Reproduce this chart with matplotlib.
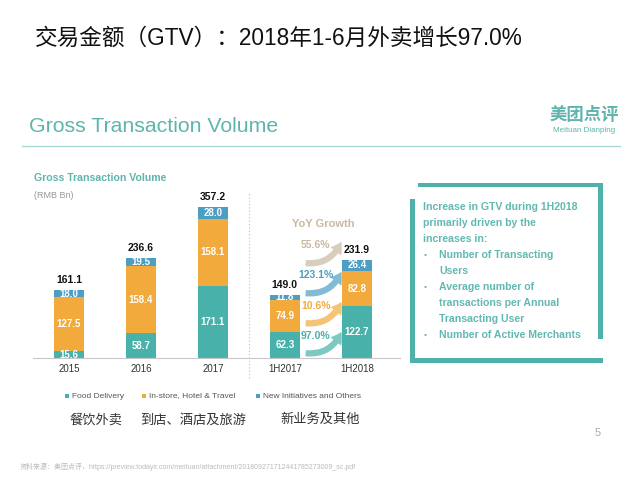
import numpy as np
import matplotlib.pyplot as plt
from matplotlib.patches import Rectangle, FancyArrowPatch
from matplotlib.lines import Line2D

plt.rcParams['font.family'] = ['Liberation Sans', 'Noto Sans CJK SC', 'DejaVu Sans']

# Data (RMB Bn)
periods = ["2015", "2016", "2017", "1H2017", "1H2018"]
food_delivery = [15.6, 58.7, 171.1, 62.3, 122.7]
instore_hotel = [127.5, 158.4, 158.1, 74.9, 82.8]
new_initiatives = [18.0, 19.5, 28.0, 11.8, 26.4]
totals = [161.1, 236.6, 357.2, 149.0, 231.9]
yoy_labels = ["97.0%", "10.6%", "123.1%", "55.6%"]

series_names = ["Food Delivery", "In-store, Hotel & Travel", "New Initiatives and Others"]
series_cn = ["餐饮外卖", "到店、酒店及旅游", "新业务及其他"]
box_lines = ["Increase in GTV during 1H2018", "primarily driven by the", "increases in:"]
box_bullets = [["Number of Transacting", "Users"],
               ["Average number of", "transactions per Annual", "Transacting User"],
               ["Number of Active Merchants"]]

TEAL = "#48b1a9"
ORANGE = "#f2aa3c"
BLUE = "#4c9ec3"
TAN = "#c9b9a2"
HEAD = "#5fb5ad"
colors = [TEAL, ORANGE, BLUE]
arrow_colors = [TEAL, ORANGE, BLUE, TAN]

W, H = 640, 480
fig = plt.figure(figsize=(6.4, 4.8), dpi=100)


def fx(x):
    return x / W


def fy(y):
    return 1 - y / H


def prect(x0, y0, x1, y1, color):
    fig.add_artist(Rectangle((fx(x0), fy(y1)), (x1 - x0) / W, (y1 - y0) / H,
                             transform=fig.transFigure, color=color, lw=0))


# headings
fig.text(fx(35), fy(38), "交易金额（GTV）：2018年1-6月外卖增长97.0%", fontsize=16.3,
         color="#111111", va="center", ha="left")
fig.text(fx(29), fy(126), "Gross Transaction Volume", fontsize=15.3, color=HEAD,
         va="center", ha="left")
fig.text(fx(584), fy(115), "美团点评", fontsize=12.5, color=HEAD, fontweight="bold",
         va="center", ha="center", family=["Noto Sans CJK SC"])
fig.text(fx(584), fy(131), "Meituan Dianping", fontsize=5.8, color=HEAD,
         va="center", ha="center")
fig.add_artist(Line2D([fx(22), fx(620)], [fy(146), fy(146)], color="#a9d9d4", lw=1,
                      transform=fig.transFigure))

# bar chart
ax = fig.add_axes([fx(33), fy(358), (400 - 33) / W, (358 - 160) / H])
x = np.arange(len(periods))
bw = 0.42
bottom = np.zeros(len(periods))
for vals, c in zip([food_delivery, instore_hotel, new_initiatives], colors):
    ax.bar(x, vals, bw, bottom=bottom, color=c, lw=0)
    for xi, b, v in zip(x, bottom, vals):
        ax.text(xi, b + v / 2, f"{v:.1f}", ha="center", va="center", color="white",
                fontsize=7, fontweight="bold")
    bottom += np.array(vals)
for xi, t in zip(x, totals):
    ax.annotate(f"{t:.1f}", (xi, t), xytext=(0, 3.5), textcoords="offset points",
                ha="center", va="bottom", fontsize=7.5, fontweight="bold", color="#111111")

ax.set_xlim(-0.5, 4.6)
ax.set_ylim(0, 468)
ax.set_xticks(x)
ax.set_xticklabels(periods)
ax.tick_params(length=0, pad=4, labelsize=7, labelcolor="#333333", left=False, labelleft=False)
for s in ["top", "right", "left"]:
    ax.spines[s].set_visible(False)
ax.spines["bottom"].set_color("#c8c8c8")
ax.axvline(2.5, ymin=-0.1, ymax=0.84, ls=(0, (1, 2)), color="#bbbbbb", lw=0.8, clip_on=False)

# YoY growth arrows (decorative layout)
for i, (lab, c) in enumerate(zip(yoy_labels, arrow_colors)):
    y0 = 12 + 71 * i
    arr = FancyArrowPatch((3.25, y0), (3.8, y0 + 56), connectionstyle="arc3,rad=0.4",
                          arrowstyle="simple,head_width=10,head_length=8,tail_width=4.5",
                          color=c, alpha=0.7, lw=0, mutation_scale=1)
    ax.add_patch(arr)
    ax.text(3.43, y0 + 41, lab, ha="center", va="center", fontsize=7.5,
            fontweight="bold", color=c)
ax.text(3.54, 317, "YoY Growth", ha="center", va="center", fontsize=8,
        fontweight="bold", color=TAN)

fig.text(fx(34), fy(178), "Gross Transaction Volume", fontsize=7.6, fontweight="bold",
         color=HEAD, va="center")
fig.text(fx(34), fy(195), "(RMB Bn)", fontsize=6.5, color="#999999", va="center")

# right box
BOX = "#4fb2aa"
prect(418, 183, 603, 187, BOX)
prect(598, 183, 603, 339, BOX)
prect(410, 199, 415, 363, BOX)
prect(410, 358, 603, 363, BOX)
TXT = "#62b9b1"
ly = 207
for ln in box_lines:
    fig.text(fx(423), fy(ly), ln, fontsize=7.6, fontweight="bold", color=TXT, va="center")
    ly += 16
for bl in box_bullets:
    fig.text(fx(424), fy(ly), "•", fontsize=6, color=TXT, va="center")
    for ln in bl:
        fig.text(fx(439), fy(ly), ln, fontsize=7.6, fontweight="bold", color=TXT, va="center")
        ly += 16

# legend
leg_x = [67, 144, 258]
for lx, name, c in zip(leg_x, series_names, colors):
    prect(lx - 2, 394, lx + 2, 398, c)
    fig.text(fx(lx + 5), fy(396), name, fontsize=6, color="#555555", va="center")
for cx, name in zip([96, 193, 320], series_cn):
    fig.text(fx(cx), fy(420), name, fontsize=9.5, color="#333333", va="center", ha="center")

fig.text(fx(598), fy(433), "5", fontsize=8, color="#aaaaaa", va="center", ha="center")
fig.text(fx(20), fy(467),
         "资料来源：美团点评，https://preview.todayir.com/meituan/attachment/201809271712441785273009_sc.pdf",
         fontsize=5, color="#bbbbbb", va="center")

fig.savefig("out.png", dpi=100)
